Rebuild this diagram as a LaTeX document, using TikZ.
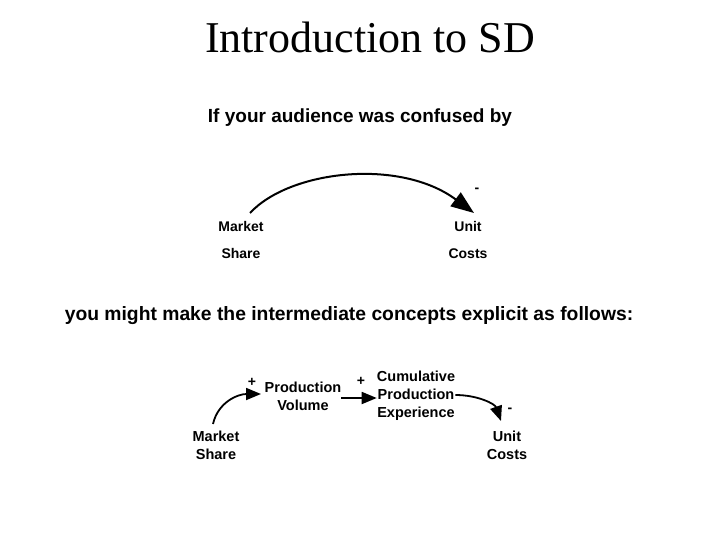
\documentclass[tikz,border=0pt]{standalone}
\usepackage{fontspec}
\setmainfont{Liberation Sans}
\newfontfamily\titlefont{Liberation Serif}
\usetikzlibrary{arrows.meta}
\begin{document}
\begin{tikzpicture}[x=1pt,y=-1pt,
  lbl/.style={font=\bfseries\fontsize{14.5}{18}\selectfont,align=center,inner sep=0pt},
  lblwide/.style={font=\bfseries\fontsize{14}{27}\selectfont,align=center,inner sep=0pt},
  sign/.style={font=\bfseries\fontsize{14}{14}\selectfont,inner sep=0pt},
  arr/.style={line width=2pt,-{Triangle[length=23pt,width=17pt]}},
  arrs/.style={line width=1.8pt,-{Triangle[length=15pt,width=12pt]}}]
\useasboundingbox (0,0) rectangle (728,546);
\node[font=\titlefont\fontsize{44}{44}\selectfont,inner sep=0pt] (title) at (370,37) {Introduction to SD};
\node[font=\bfseries\fontsize{19}{19}\selectfont,inner sep=0pt] (sub1) at (360,118) {If your audience was confused by};
\node[font=\bfseries\fontsize{19.3}{19.3}\selectfont,inner sep=0pt] (sub2) at (349,316) {you might make the intermediate concepts explicit as follows:};
% upper diagram
\node[lblwide] (ms1) at (241,240) {Market\\Share};
\node[lblwide] (uc1) at (468,240) {Unit\\Costs};
\coordinate (a1s) at (250,213);
\coordinate (a1e) at (474,213);
\draw[arr] (a1s) .. controls (290,170) and (400,158) .. (a1e);
\node[sign] (s1) at (477,190) {-};
% lower diagram
\node[lbl] (ms2) at (216,445) {Market\\Share};
\node[lbl] (pv) at (303,396) {Production\\Volume};
\node[lbl] (cpe) at (416,396) {Cumulative\\Production\\Experience};
\node[lbl] (uc2) at (507,445) {Unit\\Costs};
\coordinate (b1s) at (213,424);
\coordinate (b1e) at (261,394);
\coordinate (b3e) at (501,421);
\draw[arrs] (b1s) .. controls (218,402) and (238,394) .. (b1e);
\draw[arrs] (pv.east |- 0,398) -- (cpe.west |- 0,398);
\draw[arrs] (cpe.east |- 0,395) .. controls (478,395) and (495,404) .. (b3e);
\node[sign] (p1) at (252,382) {+};
\node[sign] (p2) at (361,381) {+};
\node[sign] (m2) at (510,410) {-};
\end{tikzpicture}
\end{document}
